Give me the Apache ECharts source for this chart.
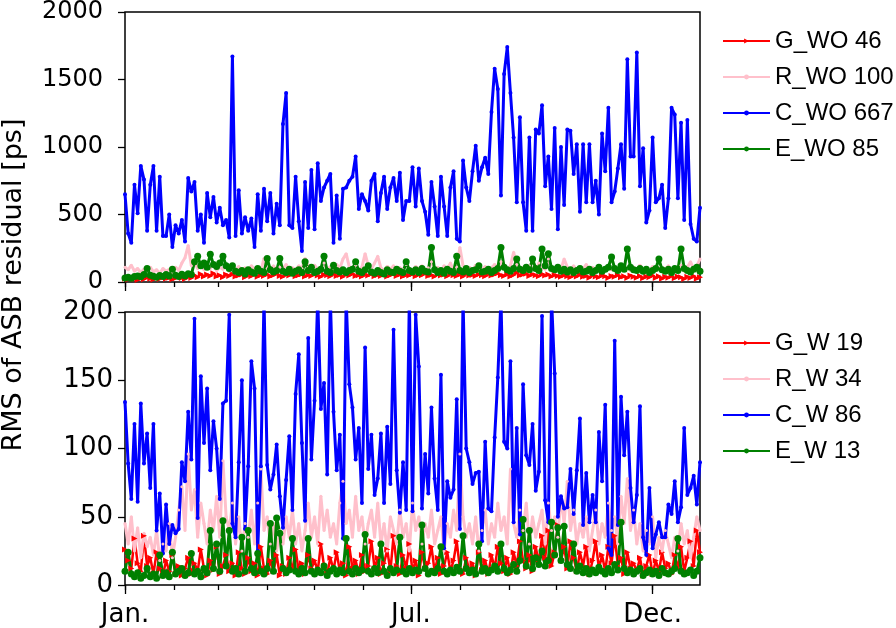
<!DOCTYPE html>
<html>
<head>
<meta charset="utf-8">
<script src="https://cdn.jsdelivr.net/npm/echarts@6/dist/echarts.min.js"></script>
<style>html,body{margin:0;padding:0;background:#fff}#c{width:896px;height:628px}</style>
</head>
<body>
<div id="c"></div>
<script>
// sampling step in days (day-of-year grid)
const STEP = 2;
const monthStarts = [0, 31, 59, 90, 120, 151, 181, 212, 243, 273, 304, 334];
const majorTicks = [0, 181, 334];
const majorLabels = ['Jan.', 'Jul.', 'Dec.'];
const topTicks = [0, 500, 1000, 1500, 2000];
const botTicks = [0, 50, 100, 150, 200];
const namesTop = ['G_WO 46', 'R_WO 100', 'C_WO 667', 'E_WO 85'];
const namesBot = ['G_W 19', 'R_W 34', 'C_W 86', 'E_W 13'];

// ---- top panel (without) ----
const C_WO = [
650,360,290,720,510,860,760,380,720,860,
380,780,340,340,500,260,420,360,460,300,
770,670,740,380,500,290,660,480,630,440,
550,420,460,330,1670,340,680,360,480,380,
470,260,650,380,690,450,660,360,580,420,
1170,1400,420,400,780,450,230,740,400,830,
390,880,600,700,750,800,290,640,320,690,
700,750,780,930,540,650,600,530,750,800,
450,660,780,540,700,770,600,810,460,600,
600,850,560,840,600,520,350,740,560,340,
780,560,340,700,820,320,300,900,700,600,
820,1010,750,850,920,800,1260,1580,1430,640,
1540,1740,1400,1070,590,1220,590,380,1070,380,
1130,1100,1310,710,930,540,1140,390,1000,570,
1130,1120,800,1020,520,1020,590,1020,590,750,
500,1100,820,1290,590,670,840,1020,690,1650,
930,930,1700,710,990,440,530,1070,590,620,
720,400,620,1290,1240,620,1180,460,1200,430,
320,300,550];
const E_WO = [
30,35,28,40,45,38,55,100,50,42,
35,48,40,55,45,95,50,40,58,45,
62,55,150,190,120,140,110,205,130,115,
140,190,120,100,120,80,70,85,60,90,
75,65,100,80,70,175,90,75,85,175,
80,70,95,65,80,90,70,150,85,110,
70,80,95,190,80,70,125,85,75,90,
70,85,95,150,80,70,90,120,75,65,
85,70,60,90,75,70,95,80,70,150,
85,75,90,70,100,80,75,255,90,70,
85,65,95,80,70,190,85,75,100,70,
85,90,120,75,80,95,70,85,100,255,
110,90,80,100,170,95,85,110,90,170,
100,85,245,120,210,100,90,110,80,95,
75,90,70,85,100,75,80,95,70,85,
110,80,95,110,185,100,85,120,95,245,
110,90,85,100,80,95,70,85,100,170,
90,80,95,70,100,85,245,100,85,75,
95,110,80];
const G_WO = [
25,18,30,22,15,28,20,35,25,18,
30,22,40,25,32,20,28,45,30,22,
38,30,50,35,60,40,55,45,65,40,
50,35,55,45,60,40,48,55,35,50,
42,60,38,52,45,58,40,50,62,45,
38,55,48,65,42,50,58,40,52,45,
60,48,38,55,50,42,60,45,52,38,
58,48,62,45,50,40,55,48,60,42,
52,45,58,40,50,62,45,55,40,52,
48,60,42,55,50,65,45,52,40,58,
48,55,42,60,50,45,55,40,62,48,
52,45,58,50,42,60,48,55,65,50,
45,58,40,52,70,48,55,62,45,58,
50,42,60,48,55,40,52,45,38,50,
42,35,48,40,55,38,45,32,50,40,
35,48,42,30,45,38,52,35,42,30,
48,38,32,45,28,40,35,48,30,42,
25,38,32,45,28,40,35,22,38,30,
45,25,35];
const R_WO = [
110,90,125,80,100,70,95,85,110,75,
90,65,100,80,95,70,110,85,140,180,
270,120,150,100,130,90,115,100,140,85,
110,95,125,80,100,90,115,75,105,85,
120,95,110,80,175,100,90,120,85,110,
95,130,80,105,90,120,100,175,110,85,
125,95,105,140,90,115,85,130,100,170,
210,110,95,125,90,110,210,120,95,140,
190,105,85,115,95,120,80,105,90,130,
100,85,115,95,120,85,105,150,90,110,
80,120,95,140,85,110,255,120,95,110,
85,125,100,90,115,80,105,130,95,150,
110,85,120,220,130,95,110,85,120,100,
90,140,110,95,170,105,85,115,95,170,
110,90,120,85,105,95,130,80,110,90,
115,85,100,120,90,110,80,125,95,105,
85,110,90,125,80,100,85,115,90,105,
80,95,120,85,105,90,125,80,110,150,
95,120,170];

// ---- bottom panel (with) ----
const C_W = [
134,89,63,118,61,133,89,111,71,118,
40,67,23,59,30,44,38,41,90,76,
127,92,195,49,153,104,144,84,120,100,
63,133,135,198,45,35,90,150,41,87,
164,144,25,87,210,88,70,81,103,65,
42,77,109,55,140,169,104,47,181,92,
135,210,129,148,81,210,127,84,110,34,
210,147,130,92,115,60,174,85,110,66,
78,111,60,116,74,187,84,53,90,55,
210,54,198,160,56,96,67,130,78,55,
154,27,76,64,70,136,41,210,100,90,
74,82,83,32,105,56,54,108,152,210,
105,100,164,46,115,37,147,95,88,118,
69,83,197,62,46,210,155,50,65,56,
57,85,52,84,122,44,82,46,66,46,
112,76,132,27,22,179,44,138,95,127,
71,46,66,131,35,22,71,27,37,46,
35,35,59,52,76,46,57,115,66,71,
80,59,90];
const G_W = [
26,18,12,34,16,10,36,14,20,8,
24,12,7,18,10,22,8,14,7,12,
20,8,16,10,26,12,7,18,11,28,
8,14,22,10,16,7,24,12,8,20,
10,16,7,28,12,8,18,10,22,7,
14,8,20,11,26,10,16,8,22,12,
18,10,30,14,8,20,11,24,10,16,
7,28,12,18,8,22,10,14,32,12,
20,8,16,26,10,36,14,8,22,12,
30,10,18,7,24,12,16,28,10,20,
8,14,24,10,18,32,12,8,20,10,
16,7,24,11,18,8,22,12,28,16,
10,20,8,24,14,32,18,12,22,10,
28,16,36,20,40,14,24,44,18,28,
12,32,20,10,24,14,28,8,18,32,
12,22,10,28,16,36,14,20,8,24,
12,16,10,20,7,14,22,8,18,10,
24,12,16,8,22,12,28,10,20,32,
14,40,24];
const R_W = [
45,30,50,25,42,20,38,28,35,22,
40,18,30,25,45,20,35,55,72,40,
96,55,70,35,60,45,30,55,40,65,
35,91,50,40,60,30,50,25,45,35,
55,30,60,85,40,50,30,45,25,40,
30,50,35,55,30,45,25,40,60,35,
50,30,65,40,55,35,45,30,60,76,
45,55,35,65,40,50,30,45,55,35,
60,30,45,25,50,40,30,55,35,45,
25,60,40,50,30,45,35,55,30,40,
50,25,45,35,55,40,96,50,35,45,
30,50,25,40,55,30,45,35,60,40,
50,30,85,45,35,55,40,60,30,50,
35,45,55,30,60,40,50,35,65,45,
76,40,55,30,45,35,50,25,40,55,
30,45,35,60,40,50,30,65,45,78,
40,55,30,45,25,40,30,50,20,35,
25,40,30,20,35,25,45,30,40,20,
35,50,40];
const E_W = [
10,24,8,6,9,5,7,12,6,8,
5,22,7,9,6,24,8,10,12,7,
9,23,8,10,6,12,9,40,12,30,
10,47,14,40,10,12,8,35,10,40,
12,9,23,10,8,12,45,10,49,38,
12,9,11,34,10,8,12,9,34,10,
8,11,9,14,7,10,12,8,11,9,
34,10,8,12,9,11,37,10,8,12,
9,30,10,7,12,9,11,35,10,8,
12,9,11,10,44,12,8,10,9,12,
28,10,8,11,9,13,10,36,12,9,
11,8,30,10,12,9,11,14,10,30,
12,9,11,15,10,18,48,14,40,12,
20,15,25,14,18,46,22,42,18,43,
15,12,30,10,14,9,12,8,11,9,
13,10,8,12,9,15,11,46,12,9,
11,8,10,12,7,9,11,8,10,7,
12,9,8,10,12,34,10,8,9,11,
7,10,20];

const chart = echarts.init(document.getElementById('c'), null, {renderer: 'canvas'});
const pairs = arr => arr.map((v, i) => [i * STEP, v]);
const TICK = {color: '#000', width: 1.3};
const FONT = 'DejaVu Sans';

function xAxes(grid, withLabels) {
  return [
    {gridIndex: grid, type: 'value', position: 'bottom', min: 0, max: 364,
     axisLine: {show: false}, splitLine: {show: false},
     axisTick: {show: true, customValues: monthStarts, length: 5, lineStyle: TICK},
     axisLabel: {show: false}},
    {gridIndex: grid, type: 'value', position: 'bottom', min: 0, max: 364,
     axisLine: {show: false}, splitLine: {show: false},
     axisTick: {show: true, customValues: majorTicks, length: 9, lineStyle: TICK},
     axisLabel: {show: withLabels, customValues: majorTicks, margin: 17,
       fontFamily: FONT, fontSize: 26, color: '#000',
       formatter: v => majorLabels[majorTicks.indexOf(v)] || ''}}
  ];
}
function yAxis(grid, ticks, fs, margin) {
  return {gridIndex: grid, type: 'value', min: ticks[0], max: ticks[ticks.length - 1],
    interval: ticks[1] - ticks[0],
    axisLine: {show: false}, splitLine: {show: false},
    axisTick: {show: true, length: 7, lineStyle: TICK},
    axisLabel: {fontFamily: FONT, fontSize: fs, color: '#000', margin: margin,
      formatter: v => String(v)}};
}
function line(name, arr, color, width, symbol, size, xi, yi, rot) {
  return {name: name, type: 'line', xAxisIndex: xi, yAxisIndex: yi, data: pairs(arr),
    symbol: symbol, symbolSize: size, symbolRotate: rot || 0, showSymbol: true,
    lineStyle: {color: color, width: width}, itemStyle: {color: color},
    emphasis: {disabled: true}, animation: false};
}
function legend(names, top) {
  return {data: names, orient: 'vertical', left: 722, top: top, padding: 0,
    itemWidth: 47, itemHeight: 6, itemGap: 12,
    textStyle: {fontFamily: 'Liberation Sans', fontSize: 24, lineHeight: 24, color: '#000'}};
}

chart.setOption({
  animation: false,
  grid: [
    {left: 125, top: 9, width: 575, height: 273, show: true, borderColor: '#000', borderWidth: 1.5, backgroundColor: 'transparent'},
    {left: 125, top: 312, width: 575, height: 273, show: true, borderColor: '#000', borderWidth: 1.5, backgroundColor: 'transparent'}
  ],
  xAxis: xAxes(0, false).concat(xAxes(1, true)),
  yAxis: [yAxis(0, topTicks, 24, 22), yAxis(1, botTicks, 26, 12)],
  legend: [legend(namesTop, 29), legend(namesBot, 331)],
  series: [
    line(namesTop[0], G_WO, '#ff0000', 2.5, 'triangle', 6, 0, 0, -90),
    line(namesTop[1], R_WO, '#ffc0cb', 3, 'circle', 3, 0, 0),
    line(namesTop[2], C_WO, '#0000ff', 3, 'circle', 4, 0, 0),
    line(namesTop[3], E_WO, '#008000', 3, 'circle', 7, 0, 0),
    line(namesBot[0], G_W, '#ff0000', 2.5, 'triangle', 6, 2, 1, -90),
    line(namesBot[1], R_W, '#ffc0cb', 3, 'circle', 3, 2, 1),
    line(namesBot[2], C_W, '#0000ff', 3, 'circle', 4, 2, 1),
    line(namesBot[3], E_W, '#008000', 3, 'circle', 7, 2, 1)
  ],
  graphic: [{type: 'text', x: 14, y: 285, rotation: Math.PI / 2,
    style: {text: 'RMS of ASB residual [ps]', fontFamily: FONT, fontSize: 27, fill: '#000',
      align: 'center', verticalAlign: 'middle'}}]
});
</script>
</body>
</html>
